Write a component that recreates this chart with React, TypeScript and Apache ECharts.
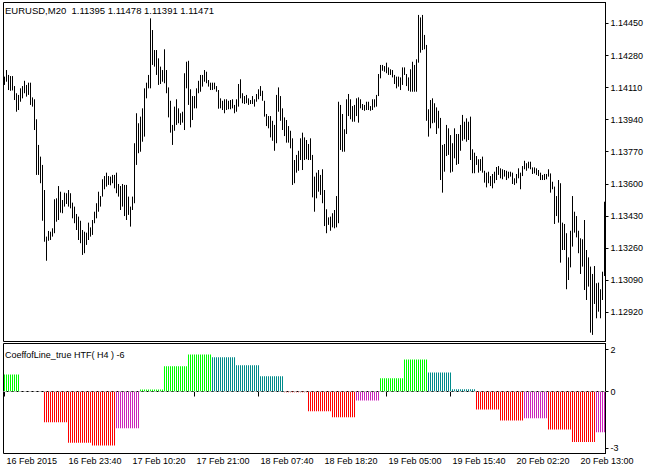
import React, { useEffect, useRef } from "react";
import * as echarts from "echarts";

// ---- Price bars (EURUSD, M20): high / low of each bar ----
const highs = [
  1.14168, 1.14203, 1.14177, 1.14171, 1.14171, 1.14118, 1.1408, 1.14071, 1.14106, 1.14118,
  1.14146, 1.14124, 1.14136, 1.14136, 1.14058, 1.14048, 1.13942, 1.13806, 1.13744, 1.137,
  1.13567, 1.1332, 1.1335, 1.13346, 1.13364, 1.13518, 1.13523, 1.13588, 1.13558, 1.13514,
  1.13553, 1.1355, 1.13567, 1.1355, 1.135, 1.13479, 1.1344, 1.13426, 1.13404, 1.13355,
  1.13346, 1.13341, 1.13394, 1.13369, 1.13408, 1.13452, 1.13497, 1.13558, 1.13535, 1.13624,
  1.13641, 1.13659, 1.13641, 1.13638, 1.13647, 1.13647, 1.13659, 1.13599, 1.13588, 1.13599,
  1.13594, 1.13594, 1.13532, 1.13479, 1.13532, 1.13815, 1.13974, 1.13921, 1.13956, 1.14,
  1.14106, 1.14136, 1.14177, 1.14477, 1.14415, 1.14309, 1.14309, 1.14265, 1.14221, 1.14203,
  1.14313, 1.14203, 1.14111, 1.1404, 1.13912, 1.14009, 1.14048, 1.14, 1.13974, 1.13982,
  1.14186, 1.14247, 1.14252, 1.14101, 1.14065, 1.14065, 1.14106, 1.14146, 1.14177, 1.14177,
  1.14203, 1.14194, 1.1415, 1.14136, 1.14136, 1.14136, 1.14118, 1.14097, 1.14053, 1.1404,
  1.14048, 1.14048, 1.1404, 1.14044, 1.14048, 1.14018, 1.14048, 1.14129, 1.14154, 1.1408,
  1.14065, 1.14071, 1.14053, 1.14044, 1.14065, 1.14048, 1.14076, 1.14101, 1.14118, 1.14093,
  1.1404, 1.1397, 1.13959, 1.13959, 1.13934, 1.13912, 1.14071, 1.14111, 1.14065, 1.14,
  1.13952, 1.13938, 1.13906, 1.13881, 1.13841, 1.13726, 1.13753, 1.13775, 1.13841, 1.13871,
  1.13846, 1.13832, 1.13811, 1.13841, 1.13753, 1.13638, 1.13659, 1.13673, 1.13647, 1.13677,
  1.13567, 1.13465, 1.13422, 1.13426, 1.13444, 1.13461, 1.13535, 1.14035, 1.14018, 1.1397,
  1.13889, 1.14048, 1.14076, 1.14048, 1.14012, 1.14018, 1.14053, 1.14058, 1.14048, 1.14023,
  1.14018, 1.14035, 1.14035, 1.14012, 1.14048, 1.14048, 1.14071, 1.14182, 1.1423, 1.1423,
  1.14224, 1.14242, 1.14217, 1.14207, 1.14203, 1.14177, 1.14168, 1.14168, 1.14164, 1.14217,
  1.14217, 1.14182, 1.14164, 1.14207, 1.14247, 1.1423, 1.1426, 1.14495, 1.14482, 1.14495,
  1.14389, 1.14336, 1.13995, 1.14044, 1.14053, 1.14027, 1.14005, 1.13987, 1.13949, 1.13806,
  1.13811, 1.13912, 1.13894, 1.13858, 1.13815, 1.13894, 1.13864, 1.13864, 1.13912, 1.13965,
  1.13929, 1.13947, 1.13929, 1.13956, 1.13783, 1.13765, 1.13747, 1.1373, 1.13731, 1.13744,
  1.13669, 1.13659, 1.13664, 1.13641, 1.13652, 1.13664, 1.13689, 1.13694, 1.13682, 1.13677,
  1.13673, 1.13669, 1.13664, 1.13664, 1.13659, 1.13629, 1.13652, 1.13682, 1.13659, 1.13694,
  1.13722, 1.13709, 1.13717, 1.13717, 1.13687, 1.13687, 1.13682, 1.13673, 1.13659, 1.13647,
  1.13652, 1.13652, 1.13677, 1.13655, 1.13611, 1.13585, 1.13535, 1.1362, 1.13603, 1.13394,
  1.13387, 1.13338, 1.1321, 1.13351, 1.13535, 1.13452, 1.13429, 1.13351, 1.13311, 1.13306,
  1.13408, 1.13249, 1.1321, 1.13161, 1.13122, 1.13164, 1.13073, 1.13076, 1.13041, 1.13134,
  1.13505,
];

const lows = [
  1.14124, 1.14141, 1.14097, 1.14093, 1.14095, 1.14044, 1.13982, 1.13991, 1.14035, 1.14053,
  1.1408, 1.14062, 1.14071, 1.14018, 1.14009, 1.13885, 1.13647, 1.13647, 1.13603, 1.13404,
  1.13293, 1.13192, 1.13298, 1.13302, 1.1332, 1.13338, 1.13399, 1.13408, 1.13447, 1.13444,
  1.13479, 1.13493, 1.13479, 1.1347, 1.13417, 1.13391, 1.13355, 1.13302, 1.13285, 1.13223,
  1.13232, 1.13276, 1.13302, 1.1332, 1.13329, 1.13391, 1.13417, 1.13452, 1.13479, 1.13532,
  1.13571, 1.13585, 1.13594, 1.13592, 1.13603, 1.13576, 1.1355, 1.13532, 1.13461, 1.13479,
  1.13429, 1.13408, 1.13435, 1.13373, 1.13461, 1.13497, 1.137, 1.13762, 1.1377, 1.13823,
  1.1385, 1.14053, 1.14106, 1.14106, 1.1423, 1.14221, 1.14177, 1.14124, 1.14129, 1.14141,
  1.14133, 1.1408, 1.13952, 1.13871, 1.13806, 1.13881, 1.13912, 1.13921, 1.13912, 1.13924,
  1.13885, 1.14106, 1.14018, 1.13899, 1.13938, 1.14, 1.14, 1.1408, 1.14088, 1.14115,
  1.14141, 1.14133, 1.14115, 1.14097, 1.14097, 1.14101, 1.14088, 1.13998, 1.14, 1.13991,
  1.13974, 1.13991, 1.13995, 1.13995, 1.14, 1.13974, 1.13982, 1.14009, 1.14053, 1.14027,
  1.14023, 1.14027, 1.14018, 1.14023, 1.14023, 1.14009, 1.14035, 1.14048, 1.14065, 1.1404,
  1.13956, 1.13906, 1.13894, 1.13846, 1.13828, 1.13775, 1.13815, 1.13982, 1.13934, 1.13885,
  1.13853, 1.13818, 1.13818, 1.13788, 1.13594, 1.13603, 1.13659, 1.13669, 1.13726, 1.13673,
  1.13726, 1.1373, 1.13726, 1.13726, 1.13528, 1.13452, 1.13523, 1.13558, 1.13541, 1.13497,
  1.13376, 1.13338, 1.13382, 1.13351, 1.13369, 1.13364, 1.13369, 1.13391, 1.13779, 1.1377,
  1.1377, 1.13864, 1.13959, 1.13942, 1.13929, 1.13929, 1.13959, 1.13924, 1.14, 1.13991,
  1.13987, 1.13991, 1.13991, 1.13987, 1.13991, 1.14005, 1.14009, 1.14065, 1.14159, 1.14199,
  1.14194, 1.14186, 1.14177, 1.14177, 1.14164, 1.14129, 1.14106, 1.14115, 1.14097, 1.14124,
  1.14177, 1.14118, 1.14093, 1.14088, 1.14088, 1.14088, 1.14088, 1.14242, 1.14295, 1.14309,
  1.14313, 1.13934, 1.1385, 1.13894, 1.13921, 1.13924, 1.13864, 1.13894, 1.1362, 1.13553,
  1.13664, 1.13747, 1.13753, 1.13659, 1.13664, 1.13735, 1.137, 1.13705, 1.13775, 1.13828,
  1.13836, 1.13823, 1.13832, 1.13726, 1.13656, 1.13656, 1.137, 1.13659, 1.13669, 1.13659,
  1.13606, 1.13581, 1.13603, 1.13588, 1.13576, 1.13603, 1.1362, 1.13647, 1.13629, 1.13624,
  1.13638, 1.1362, 1.13629, 1.13638, 1.13599, 1.13594, 1.13603, 1.13629, 1.13571, 1.13641,
  1.13677, 1.13669, 1.13682, 1.13677, 1.13652, 1.13655, 1.13647, 1.13641, 1.1362, 1.1362,
  1.1362, 1.13624, 1.13638, 1.13553, 1.13571, 1.13387, 1.13429, 1.13394, 1.13182, 1.13249,
  1.13249, 1.13041, 1.1309, 1.13157, 1.13267, 1.13341, 1.13316, 1.13232, 1.13122, 1.13161,
  1.13037, 1.12984, 1.13055, 1.12811, 1.12799, 1.12963, 1.12887, 1.12922, 1.12887, 1.12984,
  1.13111,
];

// ---- CoeffofLine_true HTF(H4): one value per H4 bar ----
const htfValues = [
  0.81, 0, -1.46, -2.44, -2.57, -1.75, 0.1, 1.2, 1.76, 1.63, 1.25, 0.73, -0.04,
  -0.94, -1.22, -0.43, 0.63, 1.52, 0.9, 0.11, -0.86, -1.38, -1.27, -1.81, -2.41, -1.94,
];
// g = rising above 0, t = falling above 0, r = falling below 0, m = rising below 0
const htfColors = [
  "g", "g", "r", "r", "r", "m", "g", "g", "g", "t", "t", "t", "r",
  "r", "r", "m", "g", "g", "t", "t", "r", "r", "m", "r", "r", "m",
];
const firstHtfBars = 8; // M20 bars in the first (partial) H4 bar
const barsPerHtf = 12; // M20 bars per H4 bar

// ---- Axis ticks ----
const priceTicks = [1.1292, 1.1309, 1.1326, 1.1343, 1.136, 1.1377, 1.1394, 1.1411, 1.1428, 1.1445];
const indicatorTicks = [2, 0, -2.7];
const timeTickIndex = [0, 31, 63, 95, 127, 159, 191, 223, 255, 287];
const timeTickLabels = [
  "16 Feb 2015", "16 Feb 23:40", "17 Feb 10:20", "17 Feb 21:00", "18 Feb 07:40",
  "18 Feb 18:20", "19 Feb 05:00", "19 Feb 15:40", "20 Feb 02:20", "20 Feb 13:00",
];

const palette: Record<string, string> = {
  g: "#00FF00",
  t: "#008B8B",
  r: "#FF0000",
  m: "#CC22BB",
};

const FONT = "'Liberation Sans', Arial, sans-serif";

export default function App() {
  const ref = useRef<HTMLDivElement>(null);

  useEffect(() => {
    if (!ref.current) return;
    const chart = echarts.init(ref.current, undefined, { renderer: "svg" });

    const n = highs.length;
    const months = ["Jan", "Feb", "Mar"];
    const start = Date.UTC(2015, 1, 16, 13, 20);
    const cats: string[] = [];
    for (let i = 0; i < n; i++) {
      const d = new Date(start + i * 20 * 60000);
      const hh = String(d.getUTCHours()).padStart(2, "0");
      const mm = String(d.getUTCMinutes()).padStart(2, "0");
      cats.push(`${d.getUTCDate()} ${months[d.getUTCMonth()]} ${hh}:${mm}`);
    }

    const tickSet = new Set(timeTickIndex);
    const labelMap: Record<number, string> = {};
    timeTickIndex.forEach((idx, k) => (labelMap[idx] = timeTickLabels[k]));

    const priceData = highs.map((h, i) => [i, h, lows[i]]);

    const histData = cats.map((_, i) => {
      const seg = i < firstHtfBars ? 0 : 1 + Math.floor((i - firstHtfBars) / barsPerHtf);
      return {
        value: htfValues[seg],
        itemStyle: { color: palette[htfColors[seg]] },
      };
    });

    const textStyle = { fontSize: 9, fontWeight: "normal" as const, fontFamily: FONT, color: "#000" };

    chart.setOption({
      animation: false,
      backgroundColor: "#ffffff",
      title: [
        {
          text: "EURUSD,M20  1.11395 1.11478 1.11391 1.11471",
          left: 5,
          top: 5,
          padding: 0,
          textStyle: { ...textStyle, fontSize: 9.5 },
        },
        {
          text: "CoeffofLine_true HTF( H4 ) -6",
          left: 5,
          top: 350,
          padding: 0,
          textStyle,
        },
      ],
      grid: [
        { left: 3.5, top: 2.5, width: 602, height: 339, show: true, borderColor: "#000", borderWidth: 1, backgroundColor: "transparent" },
        { left: 3.5, top: 343.5, width: 602, height: 110, show: true, borderColor: "#000", borderWidth: 1, backgroundColor: "transparent" },
      ],
      xAxis: [
        { type: "category", gridIndex: 0, data: cats, show: false, boundaryGap: true },
        {
          type: "category",
          gridIndex: 1,
          data: cats,
          boundaryGap: true,
          axisLine: { show: true, lineStyle: { color: "#000", width: 1 } },
          axisTick: {
            show: true,
            alignWithLabel: true,
            interval: (i: number) => tickSet.has(i),
            length: 5,
            lineStyle: { color: "#000", width: 1 },
          },
          axisLabel: {
            show: true,
            interval: (i: number) => tickSet.has(i),
            formatter: (_v: string, i: number) => labelMap[i] ?? "",
            align: "left",
            margin: 3,
            padding: [0, 0, 0, 2],
            fontSize: 9,
            fontFamily: FONT,
            color: "#000",
          },
          splitLine: { show: false },
        },
      ],
      yAxis: [
        {
          type: "value",
          gridIndex: 0,
          position: "right",
          min: 1.12764,
          max: 1.14561,
          axisLine: { show: true, lineStyle: { color: "#000", width: 1 } },
          axisTick: { show: true, customValues: priceTicks, length: 3, lineStyle: { color: "#000", width: 1 } },
          axisLabel: {
            show: true,
            customValues: priceTicks,
            formatter: (v: number) => v.toFixed(5),
            margin: 5,
            fontSize: 9,
            fontFamily: FONT,
            color: "#000",
          },
          splitLine: { show: false },
        },
        {
          type: "value",
          gridIndex: 1,
          position: "right",
          min: -2.952,
          max: 2.286,
          axisLine: { show: true, lineStyle: { color: "#000", width: 1 } },
          axisTick: { show: true, customValues: indicatorTicks, length: 3, lineStyle: { color: "#000", width: 1 } },
          axisLabel: {
            show: true,
            customValues: indicatorTicks,
            formatter: (v: number) => String(Math.round(v)),
            margin: 5,
            fontSize: 9,
            fontFamily: FONT,
            color: "#000",
          },
          splitLine: { show: false },
        },
      ],
      series: [
        {
          type: "custom",
          name: "EURUSD",
          xAxisIndex: 0,
          yAxisIndex: 0,
          clip: true,
          encode: { x: 0, y: [1, 2] },
          data: priceData,
          renderItem: (_params: any, api: any) => {
            const i = api.value(0);
            const p1 = api.coord([i, api.value(1)]);
            const p2 = api.coord([i, api.value(2)]);
            let y1 = p1[1];
            let y2 = p2[1];
            if (Math.abs(y2 - y1) < 1) y2 = y1 + 1;
            return {
              type: "line",
              shape: { x1: p1[0], y1, x2: p2[0], y2 },
              style: { stroke: "#000", lineWidth: 1 },
            };
          },
        },
        {
          type: "bar",
          name: "CoeffofLine_true HTF",
          xAxisIndex: 1,
          yAxisIndex: 1,
          barWidth: 1,
          data: histData,
          markLine: {
            silent: true,
            symbol: ["none", "none"],
            label: { show: false },
            lineStyle: { color: "#C0C0C0", type: [3, 2], width: 1 },
            data: [{ yAxis: 0 }],
          },
        },
      ],
    });

    return () => chart.dispose();
  }, []);

  return (
    <div
      ref={ref}
      style={{ position: "fixed", left: 0, top: 0, width: 654, height: 470, background: "#fff" }}
    />
  );
}
